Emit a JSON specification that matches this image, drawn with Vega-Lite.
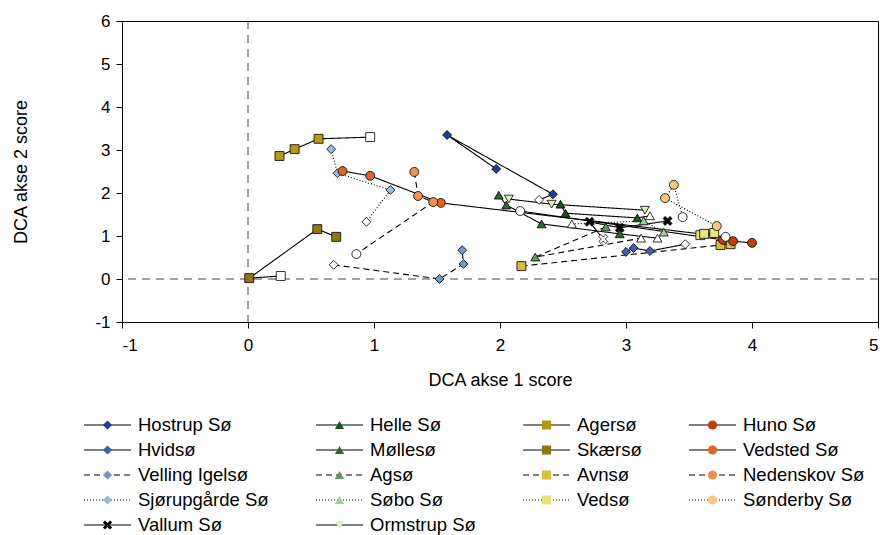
{
  "$schema": "https://vega.github.io/schema/vega-lite/v6.json",
  "width": 756,
  "height": 301,
  "autosize": {"type": "none"},
  "padding": {"left": 122, "top": 21, "right": 4, "bottom": 213},
  "background": "white",
  "config": {
    "font": "Liberation Sans",
    "view": {"stroke": "black", "strokeWidth": 1},
    "axis": {
      "domainColor": "black", "tickColor": "black", "labelColor": "black", "titleColor": "black",
      "labelFont": "Liberation Sans", "titleFont": "Liberation Sans",
      "labelFontSize": 17, "titleFontSize": 18, "titleFontWeight": "normal",
      "tickSize": 6, "grid": false, "domainWidth": 1, "tickWidth": 1
    },
    "axisX": {"labelPadding": 9, "titlePadding": 18},
    "axisY": {"labelPadding": 6, "titlePadding": 64},
    "legend": {
      "labelFont": "Liberation Sans", "labelFontSize": 18.5, "labelColor": "black",
      "labelLimit": 300, "orient": "none", "direction": "horizontal", "columns": 4, "clipHeight": 20,
      "rowPadding": 5, "columnPadding": 46, "padding": 0
    }
  },
  "data": {
    "values": [
      {"lake": "Hostrup Sø", "ord": 1, "x": 2.31, "y": 1.84, "open": true},
      {"lake": "Hostrup Sø", "ord": 2, "x": 2.42, "y": 1.97},
      {"lake": "Hostrup Sø", "ord": 3, "x": 1.58, "y": 3.35},
      {"lake": "Hostrup Sø", "ord": 4, "x": 1.97, "y": 2.56},
      {"lake": "Hvidsø", "ord": 1, "x": 3.0, "y": 0.63},
      {"lake": "Hvidsø", "ord": 2, "x": 3.06, "y": 0.72},
      {"lake": "Hvidsø", "ord": 3, "x": 3.19, "y": 0.65},
      {"lake": "Hvidsø", "ord": 4, "x": 3.47, "y": 0.81, "open": true},
      {"lake": "Velling Igelsø", "ord": 1, "x": 0.68, "y": 0.33, "open": true},
      {"lake": "Velling Igelsø", "ord": 2, "x": 1.52, "y": 0.0},
      {"lake": "Velling Igelsø", "ord": 3, "x": 1.71, "y": 0.35},
      {"lake": "Velling Igelsø", "ord": 4, "x": 1.7, "y": 0.67},
      {"lake": "Sjørupgårde Sø", "ord": 1, "x": 0.66, "y": 3.02},
      {"lake": "Sjørupgårde Sø", "ord": 2, "x": 0.71, "y": 2.46},
      {"lake": "Sjørupgårde Sø", "ord": 3, "x": 1.13, "y": 2.07},
      {"lake": "Sjørupgårde Sø", "ord": 4, "x": 0.94, "y": 1.33, "open": true},
      {"lake": "Vallum Sø", "ord": 1, "x": 2.82, "y": 0.93, "open": true},
      {"lake": "Vallum Sø", "ord": 2, "x": 2.71, "y": 1.33},
      {"lake": "Vallum Sø", "ord": 3, "x": 2.95, "y": 1.19},
      {"lake": "Vallum Sø", "ord": 4, "x": 3.33, "y": 1.35},
      {"lake": "Helle Sø", "ord": 1, "x": 2.48, "y": 1.74},
      {"lake": "Helle Sø", "ord": 2, "x": 2.52, "y": 1.53},
      {"lake": "Helle Sø", "ord": 3, "x": 3.09, "y": 1.42},
      {"lake": "Helle Sø", "ord": 4, "x": 3.19, "y": 1.47, "open": true},
      {"lake": "Møllesø", "ord": 1, "x": 1.99, "y": 1.95},
      {"lake": "Møllesø", "ord": 2, "x": 2.05, "y": 1.72},
      {"lake": "Møllesø", "ord": 3, "x": 2.33, "y": 1.28},
      {"lake": "Møllesø", "ord": 4, "x": 2.95, "y": 1.05},
      {"lake": "Møllesø", "ord": 5, "x": 3.25, "y": 0.95, "open": true},
      {"lake": "Agsø", "ord": 1, "x": 2.84, "y": 1.21},
      {"lake": "Agsø", "ord": 2, "x": 2.28, "y": 0.51},
      {"lake": "Agsø", "ord": 3, "x": 3.12, "y": 0.95, "open": true},
      {"lake": "Søbo Sø", "ord": 1, "x": 2.57, "y": 1.28, "open": true},
      {"lake": "Søbo Sø", "ord": 2, "x": 3.14, "y": 1.35},
      {"lake": "Søbo Sø", "ord": 3, "x": 3.3, "y": 1.09},
      {"lake": "Ormstrup Sø", "ord": 1, "x": 2.07, "y": 1.86},
      {"lake": "Ormstrup Sø", "ord": 2, "x": 2.41, "y": 1.74},
      {"lake": "Ormstrup Sø", "ord": 3, "x": 3.15, "y": 1.6},
      {"lake": "Agersø", "ord": 1, "x": 0.97, "y": 3.3, "open": true},
      {"lake": "Agersø", "ord": 2, "x": 0.56, "y": 3.26},
      {"lake": "Agersø", "ord": 3, "x": 0.37, "y": 3.02},
      {"lake": "Agersø", "ord": 4, "x": 0.25, "y": 2.86},
      {"lake": "Skærsø", "ord": 1, "x": 0.26, "y": 0.07, "open": true},
      {"lake": "Skærsø", "ord": 2, "x": 0.01, "y": 0.02},
      {"lake": "Skærsø", "ord": 3, "x": 0.55, "y": 1.16},
      {"lake": "Skærsø", "ord": 4, "x": 0.7, "y": 0.98},
      {"lake": "Avnsø", "ord": 1, "x": 2.17, "y": 0.3},
      {"lake": "Avnsø", "ord": 2, "x": 3.75, "y": 0.79},
      {"lake": "Avnsø", "ord": 3, "x": 3.83, "y": 0.81},
      {"lake": "Vedsø", "ord": 1, "x": 3.59, "y": 1.02},
      {"lake": "Vedsø", "ord": 2, "x": 3.62, "y": 1.05},
      {"lake": "Vedsø", "ord": 3, "x": 3.7, "y": 1.07},
      {"lake": "Huno Sø", "ord": 1, "x": 2.16, "y": 1.58, "open": true},
      {"lake": "Huno Sø", "ord": 2, "x": 3.77, "y": 0.91},
      {"lake": "Huno Sø", "ord": 3, "x": 3.85, "y": 0.88},
      {"lake": "Huno Sø", "ord": 4, "x": 4.0, "y": 0.84},
      {"lake": "Vedsted Sø", "ord": 1, "x": 0.75, "y": 2.51},
      {"lake": "Vedsted Sø", "ord": 2, "x": 0.97, "y": 2.4},
      {"lake": "Vedsted Sø", "ord": 3, "x": 1.53, "y": 1.77},
      {"lake": "Vedsted Sø", "ord": 4, "x": 3.79, "y": 0.98, "open": true},
      {"lake": "Nedenskov Sø", "ord": 1, "x": 1.32, "y": 2.49},
      {"lake": "Nedenskov Sø", "ord": 2, "x": 1.35, "y": 1.93},
      {"lake": "Nedenskov Sø", "ord": 3, "x": 1.47, "y": 1.79},
      {"lake": "Nedenskov Sø", "ord": 4, "x": 0.86, "y": 0.58, "open": true},
      {"lake": "Sønderby Sø", "ord": 1, "x": 3.72, "y": 1.23},
      {"lake": "Sønderby Sø", "ord": 2, "x": 3.31, "y": 1.88},
      {"lake": "Sønderby Sø", "ord": 3, "x": 3.38, "y": 2.19},
      {"lake": "Sønderby Sø", "ord": 4, "x": 3.45, "y": 1.44, "open": true}
    ]
  },
  "layer": [
    {
      "data": {"values": [{}]},
      "mark": {"type": "rule", "stroke": "#444444", "strokeWidth": 1, "strokeDash": [8, 6]},
      "encoding": {"x": {"datum": 0, "type": "quantitative"}}
    },
    {
      "data": {"values": [{}]},
      "mark": {"type": "rule", "stroke": "#444444", "strokeWidth": 1, "strokeDash": [8, 6]},
      "encoding": {"y": {"datum": 0, "type": "quantitative"}}
    },
    {
      "mark": {"type": "line", "stroke": "black", "strokeWidth": 1.1},
      "encoding": {
        "x": {
          "field": "x", "type": "quantitative",
          "scale": {"domain": [-1, 5], "nice": false, "zero": false},
          "axis": {"title": "DCA akse 1 score", "values": [-1, 0, 1, 2, 3, 4, 5], "labelExpr": "'' + datum.value"}
        },
        "y": {
          "field": "y", "type": "quantitative",
          "scale": {"domain": [-1, 6], "nice": false, "zero": false},
          "axis": {"title": "DCA akse 2 score", "values": [-1, 0, 1, 2, 3, 4, 5, 6], "labelExpr": "'' + datum.value"}
        },
        "order": {"field": "ord", "type": "quantitative"},
        "strokeDash": {
          "field": "lake", "type": "nominal",
          "scale": {
            "domain": ["Agersø", "Agsø", "Avnsø", "Helle Sø", "Hostrup Sø", "Huno Sø", "Hvidsø", "Møllesø", "Nedenskov Sø", "Ormstrup Sø", "Sjørupgårde Sø", "Skærsø", "Søbo Sø", "Sønderby Sø", "Vallum Sø", "Vedsted Sø", "Vedsø", "Velling Igelsø"],
            "range": [[1, 0], [6, 4], [6, 4], [1, 0], [1, 0], [1, 0], [1, 0], [1, 0], [6, 4], [1, 0], [1, 2], [1, 0], [1, 2], [1, 2], [1, 0], [1, 0], [1, 2], [6, 4]]
          },
          "legend": {
            "title": null,
            "values": ["Hostrup Sø", "Helle Sø", "Agersø", "Huno Sø", "Hvidsø", "Møllesø", "Skærsø", "Vedsted Sø", "Velling Igelsø", "Agsø", "Avnsø", "Nedenskov Sø", "Sjørupgårde Sø", "Søbo Sø", "Vedsø", "Sønderby Sø", "Vallum Sø", "Ormstrup Sø"],
            "symbolType": "stroke", "symbolSize": 2209, "symbolStrokeColor": "black", "symbolStrokeWidth": 1.2,
            "symbolOffset": 0, "labelOffset": 6,
            "legendX": -39, "legendY": 394
          }
        }
      }
    },
    {
      "mark": {"type": "point", "filled": true, "stroke": "black", "strokeWidth": 0.8, "size": 80, "opacity": 1},
      "encoding": {
        "x": {"field": "x", "type": "quantitative"},
        "y": {"field": "y", "type": "quantitative"},
        "shape": {
          "field": "lake", "type": "nominal",
          "scale": {
            "domain": ["Hostrup Sø", "Helle Sø", "Agersø", "Huno Sø", "Hvidsø", "Møllesø", "Skærsø", "Vedsted Sø", "Velling Igelsø", "Agsø", "Avnsø", "Nedenskov Sø", "Sjørupgårde Sø", "Søbo Sø", "Vedsø", "Sønderby Sø", "Vallum Sø", "Ormstrup Sø"],
            "range": ["diamond", "triangle-up", "square", "circle", "diamond", "triangle-up", "square", "circle", "diamond", "triangle-up", "square", "circle", "diamond", "triangle-up", "square", "circle", "M-1,-0.55L-0.55,-1L0,-0.45L0.55,-1L1,-0.55L0.45,0L1,0.55L0.55,1L0,0.45L-0.55,1L-1,0.55L-0.45,0Z", "triangle-down"]
          },
          "legend": {
            "title": null,
            "symbolSize": 85, "symbolStrokeColor": "black", "symbolStrokeWidth": 0.8,
            "symbolOffset": 15.25, "labelOffset": 21.25, "labelOpacity": 0,
            "legendX": -39, "legendY": 394
          }
        },
        "fill": {
          "condition": {"test": "datum.open", "value": "white"},
          "field": "lake", "type": "nominal",
          "scale": {
            "domain": ["Hostrup Sø", "Helle Sø", "Agersø", "Huno Sø", "Hvidsø", "Møllesø", "Skærsø", "Vedsted Sø", "Velling Igelsø", "Agsø", "Avnsø", "Nedenskov Sø", "Sjørupgårde Sø", "Søbo Sø", "Vedsø", "Sønderby Sø", "Vallum Sø", "Ormstrup Sø"],
            "range": ["#1f3d99", "#17541a", "#b59a12", "#c43d0a", "#3b62b3", "#2a6b2c", "#8f7710", "#e0661e", "#7097cc", "#5e9a58", "#d6be3c", "#ef914e", "#93bde3", "#a3cf95", "#ebe27a", "#fdc583", "#000000", "#d9f2b5"]
          },
          "legend": {
            "title": null,
            "symbolSize": 85, "symbolStrokeColor": "black", "symbolStrokeWidth": 0.8,
            "symbolOffset": 15.25, "labelOffset": 21.25, "labelOpacity": 0,
            "legendX": -39, "legendY": 394
          }
        }
      }
    }
  ]
}
